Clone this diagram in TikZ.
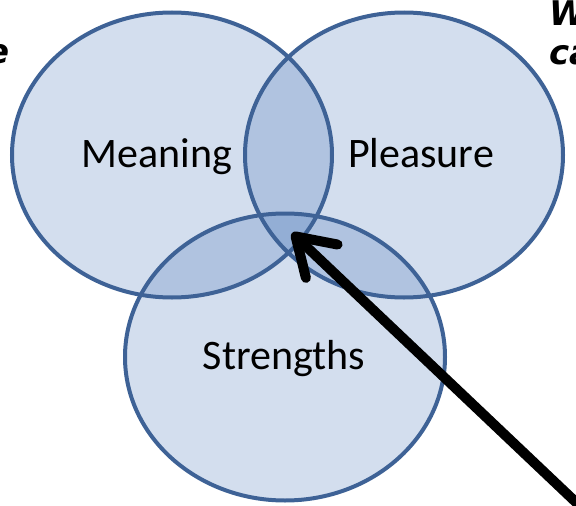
\documentclass[tikz,border=0pt]{standalone}
\usepackage{fontspec}
\setmainfont{Carlito}
\newfontfamily\notefont{DejaVu Sans}
\usetikzlibrary{shapes.geometric,arrows.meta}
\definecolor{vfill}{RGB}{35,90,170}
\definecolor{vline}{RGB}{62,98,150}
\tikzset{
  setfill/.style={ellipse, fill=vfill, fill opacity=0.2, draw=none, inner sep=0pt},
  setline/.style={ellipse, draw=vline, line width=4pt, inner sep=0pt},
  setlabel/.style={font=\fontsize{42}{46}\selectfont, anchor=base, inner sep=0pt},
  notetext/.style={font=\notefont\bfseries\itshape\fontsize{34}{38}\selectfont, inner sep=0pt},
  bigarrow/.style={line width=10pt, line cap=round, -{Straight Barb[length=36pt,width=46pt,line cap=round,line join=round]}}
}
\begin{document}
\begin{tikzpicture}[x=1pt,y=-1pt]
\useasboundingbox (0,0) rectangle (576,506);
\clip (0,0) rectangle (576,506);
% fills
\node[setfill, minimum width=320pt, minimum height=285pt] (mf) at (172,155) {};
\node[setfill, minimum width=318pt, minimum height=285pt] (pf) at (404,155) {};
\node[setfill, minimum width=320pt, minimum height=287pt] (sf) at (285,357) {};
% outlines
\node[setline, minimum width=320pt, minimum height=285pt] (m) at (172,155) {};
\node[setline, minimum width=318pt, minimum height=285pt] (p) at (404,155) {};
\node[setline, minimum width=320pt, minimum height=287pt] (s) at (285,357) {};
% labels
\node[setlabel] (ml) at (157,167) {Meaning};
\node[setlabel] (pl) at (421,167) {Pleasure};
\node[setlabel] (sl) at (284,369) {Strengths};
% partial notes at the edges
\node[notetext, anchor=base west] (w) at (549,25) {W};
\node[notetext, anchor=base west] (ca) at (549,64) {ca};
\node[notetext, anchor=base east] (e) at (10,63) {e};
% arrow
\coordinate (tail) at (582,508);
\coordinate (tip) at (292,233);
\draw[bigarrow] (tail) -- (tip);
\end{tikzpicture}
\end{document}
